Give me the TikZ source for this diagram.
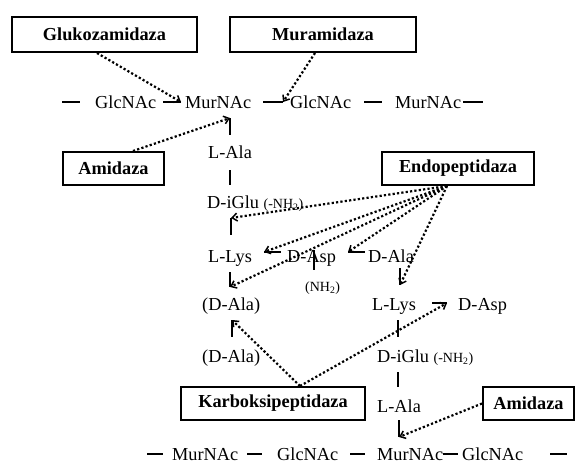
\documentclass[tikz,border=0pt]{standalone}
\usepackage{fontspec}
\setmainfont{Liberation Serif}
\usetikzlibrary{arrows.meta}
\begin{document}
\begin{tikzpicture}[x=1pt,y=-1pt,
  lbl/.style={inner sep=0pt,anchor=base west,font=\fontsize{18.3}{20}\selectfont},
  sml/.style={inner sep=0pt,anchor=base west,font=\fontsize{14}{16}\selectfont},
  enz/.style={draw,line width=2pt,inner sep=0pt,font=\fontsize{18.3}{20}\selectfont\bfseries},
  bond/.style={line width=1.9pt},
  cut/.style={line width=2.2pt,dash pattern=on 2.2pt off 2.2pt,-{Straight Barb[length=5pt,width=8pt,line width=1.5pt]}}
]
\useasboundingbox (0,0) rectangle (576,463);
% enzyme boxes
\node[enz,minimum width=185pt,minimum height=35pt] (gluko) at (104.5,34.5) {Glukozamidaza};
\node[enz,minimum width=186pt,minimum height=35pt] (mura) at (323,34.5) {Muramidaza};
\node[enz,minimum width=101pt,minimum height=33pt] (amL) at (113.5,168.5) {Amidaza};
\node[enz,minimum width=152pt,minimum height=33pt] (endo) at (458,168.5) {Endopeptidaza};
\node[enz,minimum width=184pt,minimum height=33pt] (karbo) at (273,403.5) {Karboksipeptidaza};
\node[enz,minimum width=91pt,minimum height=33pt] (amR) at (528.5,403.5) {Amidaza};
% top glycan row
\node[lbl] (g1) at (95,108) {GlcNAc};
\node[lbl] (m1) at (185,108) {MurNAc};
\node[lbl] (g2) at (290,108) {GlcNAc};
\node[lbl] (m2) at (395,108) {MurNAc};
\draw[bond] (62,102) -- (80,102);
\coordinate (b1a) at (163,102); \coordinate (b1b) at (181,102);
\draw[bond] (b1a) -- (b1b);
\coordinate (b2a) at (263,102); \coordinate (b2b) at (283,102);
\draw[bond] (b2a) -- (b2b);
\draw[bond] (364,102) -- (382,102);
\draw[bond] (463,102) -- (483,102);
% left peptide
\coordinate (v1a) at (230,118); \coordinate (v1b) at (230,135);
\draw[bond] (v1a) -- (v1b);
\node[lbl] (la1) at (208,158) {L-Ala};
\draw[bond] (230,170) -- (230,185);
\node[lbl] (ig1) at (207,208) {D-iGlu {\fontsize{14}{16}\selectfont (-NH\textsubscript{2})}};
\coordinate (v3a) at (231,218); \coordinate (v3b) at (231,235);
\draw[bond] (v3a) -- (v3b);
\node[lbl] (ly1) at (208,262) {L-Lys};
\coordinate (h1a) at (264,252); \coordinate (h1b) at (281,252);
\draw[bond] (h1a) -- (h1b);
\node[lbl] (as1) at (287,262) {D-Asp};
\coordinate (h2a) at (348,252); \coordinate (h2b) at (365,252);
\draw[bond] (h2a) -- (h2b);
\node[lbl] (da1) at (368,262) {D-Ala};
\draw[bond] (314,250) -- (314,270);
\node[sml] (nh) at (305,291) {(NH\textsubscript{2})};
\coordinate (v5a) at (230,272); \coordinate (v5b) at (230,287);
\draw[bond] (v5a) -- (v5b);
\node[lbl] (da2) at (202,310) {(D-Ala)};
\coordinate (v7a) at (232,320); \coordinate (v7b) at (232,337);
\draw[bond] (v7a) -- (v7b);
\node[lbl] (da3) at (202,362) {(D-Ala)};
% right peptide
\coordinate (v6a) at (400,268); \coordinate (v6b) at (400,285);
\draw[bond] (v6a) -- (v6b);
\node[lbl] (ly2) at (372,310) {L-Lys};
\coordinate (h3a) at (432,303); \coordinate (h3b) at (447,303);
\draw[bond] (h3a) -- (h3b);
\node[lbl] (as2) at (458,310) {D-Asp};
\draw[bond] (398,320) -- (398,337);
\node[lbl] (ig2) at (377,362) {D-iGlu {\fontsize{14}{16}\selectfont (-NH\textsubscript{2})}};
\draw[bond] (398,372) -- (398,387);
\node[lbl] (la2) at (377,412) {L-Ala};
\coordinate (v10a) at (399,420); \coordinate (v10b) at (399,437);
\draw[bond] (v10a) -- (v10b);
% bottom glycan row
\node[lbl] (m3) at (172,460) {MurNAc};
\node[lbl] (g3) at (277,460) {GlcNAc};
\node[lbl] (m4) at (377,460) {MurNAc};
\node[lbl] (g4) at (462,460) {GlcNAc};
\draw[bond] (147,454) -- (163,454);
\draw[bond] (247,454) -- (262,454);
\draw[bond] (350,454) -- (365,454);
\draw[bond] (443,454) -- (458,454);
\draw[bond] (550,454) -- (567,454);
% cleavage arrows
\draw[cut] ([xshift=-7.5pt]gluko.south) -- (b1b);
\draw[cut] ([xshift=-8pt]mura.south) -- (b2b);
\draw[cut] ([xshift=19.5pt]amL.north) -- (v1a);
\coordinate (eo) at ([xshift=-11pt]endo.south);
\draw[cut] (eo) -- (v3a);
\draw[cut] (eo) -- (h1a);
\draw[cut] (eo) -- (v5b);
\draw[cut] (eo) -- (h2a);
\draw[cut] (eo) -- (v6b);
\coordinate (ko) at ([xshift=27pt]karbo.north);
\draw[cut] (ko) -- (v7a);
\draw[cut] (ko) -- (h3b);
\draw[cut] (amR.west) -- (v10b);
\end{tikzpicture}
\end{document}
